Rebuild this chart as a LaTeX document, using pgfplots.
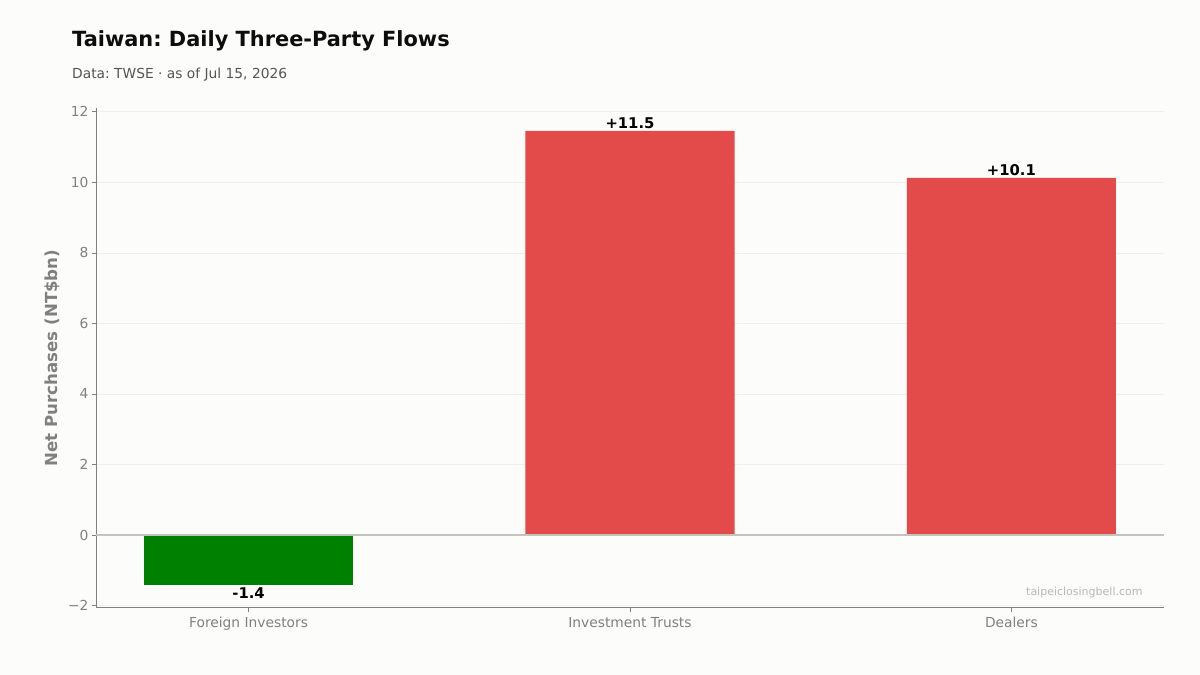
\documentclass[border=0pt]{standalone}
\usepackage{pgfplots}
\pgfplotsset{compat=1.18}
\usepackage{fontspec}
\setmainfont{DejaVu Sans}
\frenchspacing
\definecolor{bg}{HTML}{FCFCFA}
\definecolor{barred}{HTML}{E34A4A}
\definecolor{bargreen}{HTML}{008000}
\definecolor{axgray}{HTML}{808080}
\definecolor{gridc}{HTML}{F0F0EC}
\definecolor{zeroc}{HTML}{C4C4BC}
\definecolor{subc}{HTML}{555555}
\definecolor{wmc}{HTML}{B8B8B8}
\begin{document}
\frenchspacing
\begin{tikzpicture}
\fill[bg] (0pt,0pt) rectangle (1200pt,675pt);
\node[anchor=base west, inner sep=0pt, font=\fontsize{20.9}{24}\selectfont\bfseries, text=black!95] at (72pt,628pt) {Taiwan: Daily Three-Party Flows};
\node[anchor=base west, inner sep=0pt, font=\fontsize{13.8}{16}\selectfont, text=subc] at (72pt,596pt) {Data: TWSE · as of Jul 15, 2026};
\begin{axis}[
  at={(96pt,67pt)}, anchor=south west,
  scale only axis, width=1068pt, height=500pt,
  xmin=-0.4, xmax=2.4, ymin=-2.07, ymax=12.11,
  axis x line*=bottom, axis y line*=left,
  axis line style={axgray, line width=1pt, -},
  xtick={0,1,2},
  xticklabels={Foreign Investors, Investment Trusts, Dealers},
  ytick={-2,0,2,4,6,8,10,12},
  yticklabels={−2,0,2,4,6,8,10,12},
  tick style={axgray, line width=0.8pt},
  major tick length=4pt, tick align=outside,
  ticklabel style={font=\fontsize{13.8}{16}\selectfont, text=axgray},
  xticklabel style={text height=0.75em, text depth=0.22em, yshift=-4pt},
  ymajorgrids, grid style={gridc, line width=0.8pt},
  ylabel={Net Purchases (NT\$bn)},
  ylabel style={at={(axis description cs:-0.0412,0.5)}, anchor=center, font=\fontsize{16.6}{19}\selectfont\bfseries, text=axgray},
  clip=false,
]
\addplot[ybar, bar width=209pt, bar shift=0pt, fill=bargreen, draw=none,
  point meta=explicit symbolic, nodes near coords,
  every node near coord/.append style={anchor=north, font=\fontsize{14.8}{17}\selectfont\bfseries, text=black, inner sep=2pt}]
  coordinates {(0,-1.42) [-1.4]};
\addplot[ybar, bar width=209pt, bar shift=0pt, fill=barred, draw=none,
  point meta=explicit symbolic, nodes near coords,
  every node near coord/.append style={anchor=south, font=\fontsize{14.8}{17}\selectfont\bfseries, text=black, inner sep=2pt}]
  coordinates {(1,11.46) [+11.5] (2,10.13) [+10.1]};
\draw[zeroc, line width=1.5pt] (axis cs:-0.4,0) -- (axis cs:2.4,0);
\node[anchor=east, font=\fontsize{11}{13}\selectfont, text=wmc] at (axis cs:2.353,-1.64) {taipeiclosingbell.com};
\end{axis}
\end{tikzpicture}
\end{document}
